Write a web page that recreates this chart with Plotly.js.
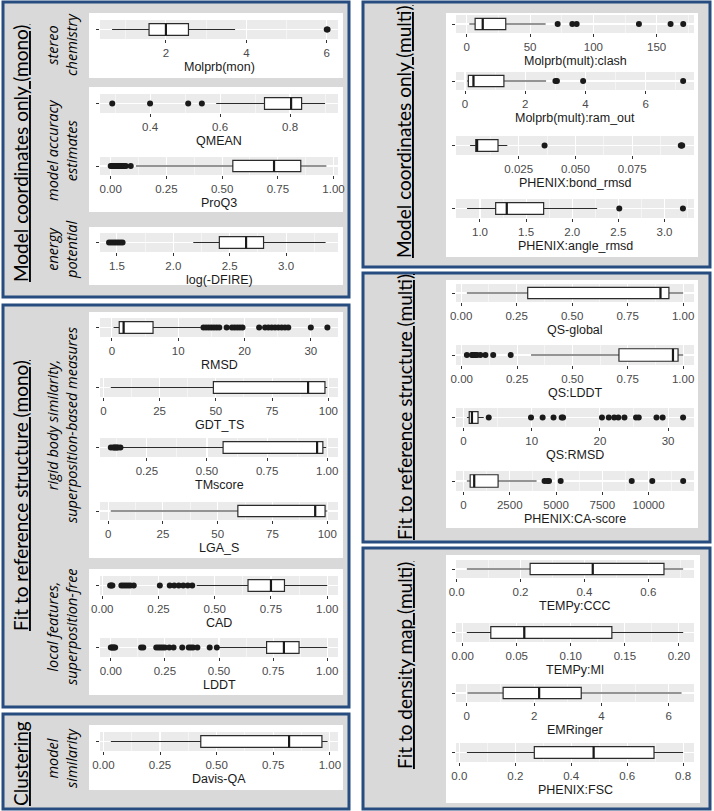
<!DOCTYPE html>
<html>
<head>
<meta charset="utf-8">
<script src="https://cdn.plot.ly/plotly-3.0.1.min.js"></script>
<style>
    body { margin: 0; background: #fff; }
    #chart { width: 714px; height: 811px; }
</style>
</head>
<body>
<div id="chart"></div>
<script>
// Score distributions, one box per metric
const metricNames = [
    'Molprb(mon)', 'QMEAN', 'ProQ3', 'log(-DFIRE)',
    'RMSD', 'GDT_TS', 'TMscore', 'LGA_S', 'CAD', 'LDDT', 'Davis-QA',
    'Molprb(mult):clash', 'Molprb(mult):ram_out', 'PHENIX:bond_rmsd', 'PHENIX:angle_rmsd',
    'QS-global', 'QS:LDDT', 'QS:RMSD', 'PHENIX:CA-score',
    'TEMPy:CCC', 'TEMPy:MI', 'EMRinger', 'PHENIX:FSC'
];
const lowerWhisker = [0.66, 0.589, 0.113, 2.177, 0.25, 3.3, 0.146, 1.2, 0.42, 0.50, 0.033,
    2, 0.06, 0.0036, 0.86, 0.026, 0.313, 0.5, 180, 0.032, 0.0038, 0.02, 0.027];
const q1 = [1.58, 0.727, 0.548, 2.408, 1.1, 48.9, 0.567, 59.2, 0.648, 0.72, 0.43,
    6.6, 0.11, 0.0061, 1.17, 0.30, 0.71, 0.84, 360, 0.23, 0.026, 1.08, 0.268];
const median = [2.0, 0.803, 0.733, 2.645, 1.76, 91, 0.958, 94.5, 0.75, 0.80, 0.82,
    12.6, 0.28, 0.0067, 1.29, 0.898, 0.954, 1.24, 580, 0.426, 0.057, 2.15, 0.48];
const q3 = [2.56, 0.833, 0.853, 2.80, 6.2, 98.5, 0.982, 99, 0.81, 0.87, 0.965,
    30.8, 1.29, 0.0159, 1.69, 0.936, 0.977, 2.13, 1870, 0.649, 0.138, 3.4, 0.696];
const upperWhisker = [3.72, 0.90, 0.968, 3.35, 13.4, 99.5, 0.996, 100, 1.0, 1.0, 0.99,
    62.3, 2.69, 0.020, 2.27, 1.0, 1.0, 2.97, 3950, 0.709, 0.204, 6.38, 0.80];
const outlierValues = [
    [6.0, 6.02],
    [0.292, 0.40, 0.509, 0.548],
    [0.0, 0.005, 0.01, 0.015, 0.02, 0.025, 0.03, 0.035, 0.04, 0.045, 0.05, 0.055, 0.06, 0.068, 0.09],
    [1.43, 1.45, 1.47, 1.49, 1.51, 1.53, 1.55],
    [13.8, 14.2, 14.6, 15.0, 15.4, 15.8, 16.2, 17.3, 18.1, 18.5, 18.9, 19.3, 19.7,
        22.2, 23.1, 23.6, 24.1, 24.6, 25.1, 25.6, 26.1, 26.6, 30.0, 32.5],
    [],
    [0.10, 0.11, 0.115, 0.12, 0.125, 0.13, 0.14],
    [],
    [0.035, 0.04, 0.045, 0.085, 0.095, 0.105, 0.115, 0.125, 0.14, 0.256, 0.30, 0.32, 0.34, 0.36, 0.38, 0.40],
    [0.0, 0.005, 0.01, 0.015, 0.02, 0.14, 0.15, 0.21, 0.22, 0.23, 0.24, 0.25, 0.27, 0.29,
        0.33, 0.36, 0.37, 0.38, 0.40, 0.457, 0.49],
    [],
    [71.8, 83.4, 86.8, 136, 161, 171],
    [3.0, 3.05, 3.92, 7.24],
    [0.0364, 0.0964, 0.0967, 0.0970],
    [2.51, 3.2],
    [],
    [0.023, 0.046, 0.05, 0.056, 0.062, 0.069, 0.084, 0.107, 0.142, 0.221],
    [3.7, 9.9, 11.6, 13.2, 14.4, 14.6, 20.3, 21.3, 22.1, 22.7, 23.6, 25.3, 25.7, 28.3, 29.2, 32.2],
    [4380, 4530, 4620, 5250, 9090, 10200, 11870],
    [], [], [], []
];
const tickLabels = [
    ['2', '4', '6'],
    ['0.4', '0.6', '0.8'],
    ['0.00', '0.25', '0.50', '0.75', '1.00'],
    ['1.5', '2.0', '2.5', '3.0'],
    ['0', '10', '20', '30'],
    ['0', '25', '50', '75', '100'],
    ['0.25', '0.50', '0.75', '1.00'],
    ['0', '25', '50', '75', '100'],
    ['0.00', '0.25', '0.50', '0.75', '1.00'],
    ['0.00', '0.25', '0.50', '0.75', '1.00'],
    ['0.00', '0.25', '0.50', '0.75', '1.00'],
    ['0', '50', '100', '150'],
    ['0', '2', '4', '6'],
    ['0.025', '0.050', '0.075'],
    ['1.0', '1.5', '2.0', '2.5', '3.0'],
    ['0.00', '0.25', '0.50', '0.75', '1.00'],
    ['0.00', '0.25', '0.50', '0.75', '1.00'],
    ['0', '10', '20', '30'],
    ['0', '2500', '5000', '7500', '10000'],
    ['0.0', '0.2', '0.4', '0.6'],
    ['0.00', '0.05', '0.10', '0.15', '0.20'],
    ['0', '2', '4', '6'],
    ['0.0', '0.2', '0.4', '0.6', '0.8']
];

// Axis ranges and plot rectangles (px: left, top, right, bottom)
const axisRanges = [
    [0.36, 6.28], [0.257, 0.937], [-0.048, 1.02], [1.35, 3.46],
    [-1.8, 34.1], [-1.5, 104.3], [0.055, 1.045], [-3.7, 104.9], [-0.01, 1.048], [-0.05, 1.05], [-0.015, 1.036],
    [-8.5, 179.5], [-0.3, 7.6], [-0.0026, 0.1022], [0.74, 3.32],
    [-0.023, 1.049], [-0.026, 1.049], [-1.1, 33.8], [-405, 12455],
    [-0.002, 0.743], [-0.0062, 0.214], [-0.32, 6.75], [-0.012, 0.839]
];
const L = [100, 338], R = [456, 694];
const plotTops = [20, 94, 157, 233, 318, 378, 438, 502, 576, 638, 732,
    15, 72, 136, 199, 284, 345, 408, 471, 560, 623, 684, 743];
const plotBottoms = [39, 113, 175, 252, 337, 397, 457, 520, 595, 657, 751,
    33, 90, 155, 218, 302, 365, 427, 491, 578, 642, 702, 762];

const groupFrames = [[3, 2, 349, 297], [3, 305, 349, 707], [3, 714, 349, 809],
    [363, 2, 710, 267], [363, 273, 710, 542], [363, 548, 710, 809]];
const whitePanels = [[89, 13, 343, 78], [89, 87, 343, 212], [89, 227, 343, 285],
    [89, 312, 343, 558], [89, 569, 343, 695], [89, 725, 343, 790],
    [446, 13, 698, 257], [446, 280, 698, 528], [446, 555, 700, 803]];
const groupTitles = [
    {text: 'Model coordinates only (mono)', x: 20, y: 154},
    {text: 'Fit to reference structure (mono)', x: 20, y: 496},
    {text: 'Clustering', x: 20, y: 764},
    {text: 'Model coordinates only (multi)', x: 404, y: 132},
    {text: 'Fit to reference structure (multi)', x: 404, y: 407},
    {text: 'Fit to density map (multi)', x: 404, y: 666}
];
const sideLabels = [
    {text: 'stereo<br>chemistry', y: 45},
    {text: 'model accuracy<br>estimates', y: 150},
    {text: 'energy<br>potential', y: 250},
    {text: 'rigid body similarity,<br>superposition-based measures', y: 425},
    {text: 'local features,<br>superposition-free', y: 627},
    {text: 'model<br>similarity', y: 758}
];

const W = 714, H = 811;
const px = x => x / W;
const py = y => 1 - y / H;

function rectShape(r, fill, line) {
    return {
        type: 'rect', xref: 'paper', yref: 'paper', layer: 'below',
        x0: px(r[0]), x1: px(r[2]), y0: py(r[3]), y1: py(r[1]),
        fillcolor: fill, line: line || {width: 0}
    };
}

function minorTicks(ticks, range) {
    const step = ticks[1] - ticks[0];
    const out = [];
    for (let v = ticks[0] - step / 2; v <= range[1]; v += step) {
        if (v >= range[0]) out.push(v);
    }
    return out;
}

const traces = [];
const layout = {
    width: W, height: H,
    margin: {l: 0, r: 0, t: 0, b: 0},
    paper_bgcolor: 'white',
    plot_bgcolor: 'rgba(0,0,0,0)',
    showlegend: false,
    shapes: [],
    annotations: []
};

groupFrames.forEach(r => layout.shapes.push(rectShape(r, '#d9d9d9', {color: '#274c80', width: 3})));
whitePanels.forEach(r => layout.shapes.push(rectShape(r, 'white')));

metricNames.forEach((name, i) => {
    const n = i + 1;
    const xs = i < 11 ? L : R;
    const top = plotTops[i], bottom = plotBottoms[i];
    const ticks = tickLabels[i].map(Number);

    layout.shapes.push(rectShape([xs[0], top, xs[1], bottom], '#ebebeb'));

    layout['xaxis' + n] = {
        domain: [px(xs[0]), px(xs[1])],
        anchor: 'y' + n,
        range: axisRanges[i],
        tickmode: 'array',
        tickvals: ticks,
        ticktext: tickLabels[i],
        ticks: 'outside', ticklen: 3, tickwidth: 1, tickcolor: '#333',
        tickfont: {family: 'Liberation Sans, Arial, sans-serif', size: 11.5, color: '#4a4a4a'},
        showgrid: true, gridcolor: 'white', gridwidth: 1.1,
        minor: {tickmode: 'array', tickvals: minorTicks(ticks, axisRanges[i]),
            showgrid: true, gridcolor: 'white', gridwidth: 0.5},
        zeroline: false, showline: false, fixedrange: true
    };
    layout['yaxis' + n] = {
        domain: [py(bottom), py(top)],
        anchor: 'x' + n,
        range: [-0.6, 0.6],
        tickmode: 'array', tickvals: [0], ticktext: [''],
        ticks: 'outside', ticklen: 3, tickcolor: '#333',
        showgrid: true, gridcolor: 'white', gridwidth: 1.1,
        zeroline: false, showline: false, fixedrange: true
    };

    traces.push({
        type: 'box', orientation: 'h',
        xaxis: 'x' + n, yaxis: 'y' + n,
        y: [0],
        q1: [q1[i]], median: [median[i]], q3: [q3[i]],
        lowerfence: [lowerWhisker[i]], upperfence: [upperWhisker[i]],
        width: 0.75, whiskerwidth: 0,
        fillcolor: 'white',
        line: {color: '#2b2b2b', width: 1.2},
        boxpoints: false, hoverinfo: 'skip'
    });
    traces.push({
        type: 'scatter', mode: 'lines',
        xaxis: 'x' + n, yaxis: 'y' + n,
        x: [median[i], median[i]], y: [-0.375, 0.375],
        line: {color: '#1a1a1a', width: 2.2}, hoverinfo: 'skip'
    });
    if (outlierValues[i].length) {
        traces.push({
            type: 'scatter', mode: 'markers',
            xaxis: 'x' + n, yaxis: 'y' + n,
            x: outlierValues[i], y: outlierValues[i].map(() => 0),
            marker: {color: '#1a1a1a', size: 6}, hoverinfo: 'skip'
        });
    }

    layout.annotations.push({
        xref: 'paper', yref: 'paper',
        x: px((xs[0] + xs[1]) / 2), y: py(bottom + 28),
        text: name, showarrow: false,
        xanchor: 'center', yanchor: 'middle',
        font: {family: 'Liberation Sans, Arial, sans-serif', size: 12.5, color: '#1a1a1a'}
    });
});

groupTitles.forEach(g => {
    layout.annotations.push({
        xref: 'paper', yref: 'paper', x: px(g.x), y: py(g.y),
        text: '<u>' + g.text + '</u>', textangle: -90, showarrow: false,
        xanchor: 'center', yanchor: 'middle',
        font: {family: 'Lato, Open Sans, sans-serif', size: 19, color: 'black'}
    });
});

sideLabels.forEach(s => {
    layout.annotations.push({
        xref: 'paper', yref: 'paper', x: px(62), y: py(s.y),
        text: '<i>' + s.text + '</i>', textangle: -90, showarrow: false,
        xanchor: 'center', yanchor: 'middle',
        font: {family: 'Open Sans, sans-serif', size: 14.5, color: 'black'}
    });
});

Plotly.newPlot('chart', traces, layout, {staticPlot: true});
</script>
</body>
</html>
